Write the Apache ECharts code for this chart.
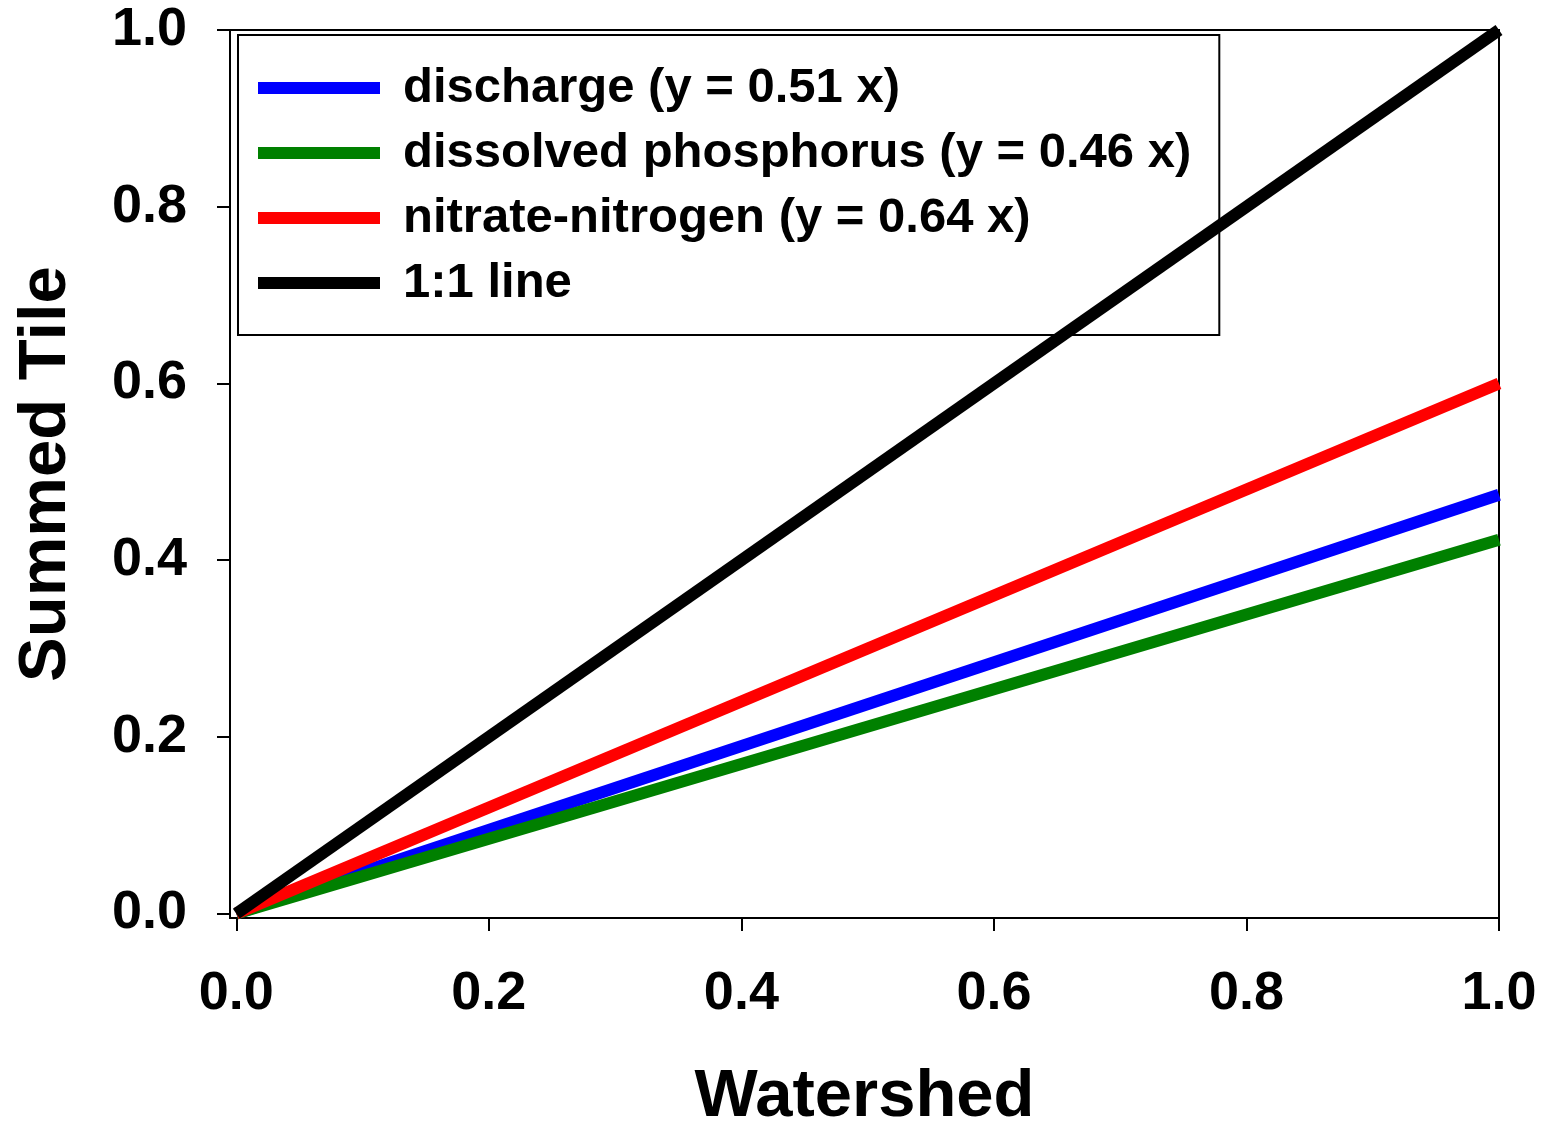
<!DOCTYPE html>
<html>
<head>
<meta charset="utf-8">
<title>Summed Tile vs Watershed</title>
<script src="https://cdn.jsdelivr.net/npm/echarts@6/dist/echarts.min.js"></script>
<style>
  html, body { margin: 0; padding: 0; background: #fff; }
  #chart { width: 1548px; height: 1124px; }
</style>
</head>
<body>
<div id="chart"></div>
<script>
// x values (watershed), start and end of each fitted line
const xVals = [0, 1.0];
// y values at x = 0 and x = 1
const discharge = [0, 0.474];
const dissolvedP = [0, 0.423];
const nitrate = [0, 0.6];
const oneToOne = [0, 1.0];
const tickVals = [0, 0.2, 0.4, 0.6, 0.8, 1.0];
const seriesNames = [
  "discharge (y = 0.51 x)",
  "dissolved phosphorus (y = 0.46 x)",
  "nitrate-nitrogen (y = 0.64 x)",
  "1:1 line",
];
const seriesColors = ["#0000ff", "#008000", "#ff0000", "#000000"];

const font = "Liberation Sans, Arial, sans-serif";
const chart = echarts.init(document.getElementById("chart"));

function pairs(ys) {
  return xVals.map((x, i) => [x, ys[i]]);
}

function axisCommon(margin) {
  return {
    type: "value",
    min: -0.005,
    max: 1.0,
    splitLine: { show: false },
    axisLine: { show: true, onZero: false, lineStyle: { color: "#000", width: 2 } },
    axisTick: {
      show: true,
      inside: false,
      length: 13,
      customValues: tickVals,
      lineStyle: { color: "#000", width: 2 },
    },
    axisLabel: {
      customValues: tickVals,
      margin: margin,
      fontSize: 54,
      fontWeight: "bold",
      fontFamily: font,
      color: "#000",
      formatter: (v) => v.toFixed(1),
    },
    nameLocation: "middle",
    nameTextStyle: { fontSize: 67, fontWeight: "bold", fontFamily: font, color: "#000" },
  };
}

const dataSets = [discharge, dissolvedP, nitrate, oneToOne];

chart.setOption({
  animation: false,
  backgroundColor: "#fff",
  grid: {
    left: 230,
    right: 49,
    top: 30,
    bottom: 206,
    show: true,
    borderColor: "#000",
    borderWidth: 2,
    containLabel: false,
    outerBoundsMode: "none",
  },
  xAxis: Object.assign(axisCommon(49), { name: "Watershed", nameGap: 146 }),
  yAxis: Object.assign(axisCommon(43), { name: "Summed Tile", nameGap: 150 }),
  legend: {
    orient: "vertical",
    left: 238,
    top: 35,
    icon: "rect",
    itemWidth: 122,
    itemHeight: 12,
    itemGap: 15,
    padding: [28, 28, 27, 20],
    backgroundColor: "#fff",
    borderColor: "#000",
    borderWidth: 2,
    selectedMode: false,
    textStyle: {
      fontSize: 49,
      fontWeight: "bold",
      fontFamily: font,
      color: "#000",
      lineHeight: 50,
      padding: [0, 0, 0, 18],
    },
    data: seriesNames,
  },
  series: dataSets.map((ys, i) => ({
    name: seriesNames[i],
    type: "line",
    data: pairs(ys),
    color: seriesColors[i],
    showSymbol: false,
    symbol: "none",
    lineStyle: { width: 12, color: seriesColors[i] },
    z: 2 + i,
  })),
});
</script>
</body>
</html>
